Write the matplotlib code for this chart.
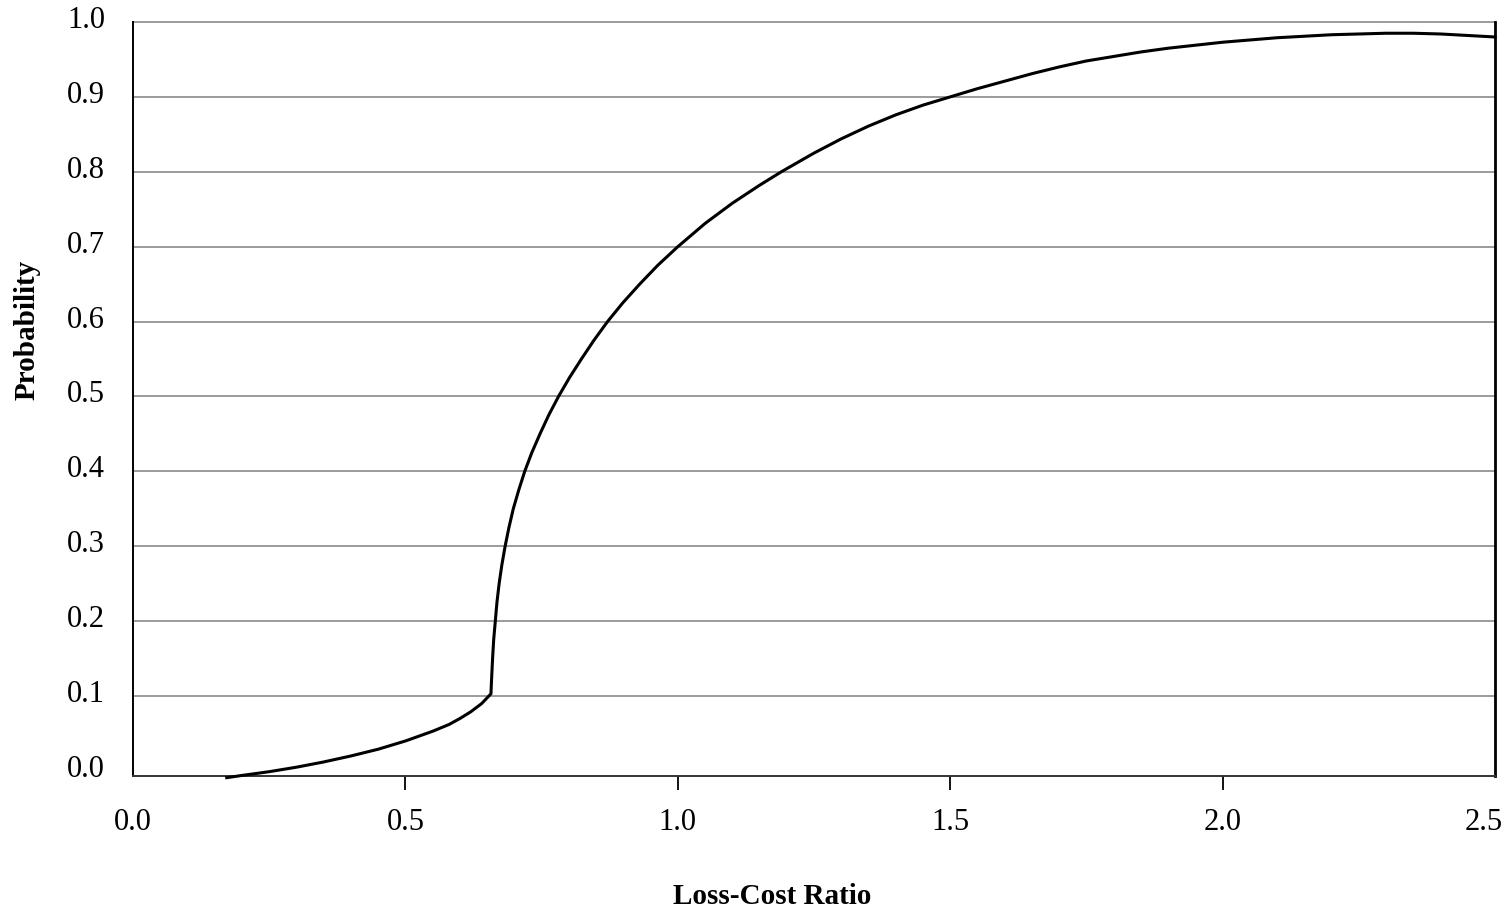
import numpy as np
import matplotlib.pyplot as plt
from matplotlib.transforms import ScaledTranslation

plt.rcParams['font.family'] = ['Liberation Serif', 'DejaVu Serif']

# lower branch of the curve
x_low = [0.172, 0.20, 0.25, 0.30, 0.35, 0.40, 0.45, 0.50, 0.55, 0.58,
         0.60, 0.62, 0.64, 0.657]
y_low = [-0.009, -0.006, -0.001, 0.005, 0.012, 0.020, 0.029, 0.040, 0.053, 0.062,
         0.070, 0.079, 0.090, 0.103]

# upper branch after the jump
x_up = [0.657, 0.658, 0.660, 0.662, 0.665, 0.668, 0.672, 0.677, 0.683, 0.690,
        0.698, 0.708, 0.719, 0.732, 0.747, 0.763, 0.781, 0.801, 0.823, 0.846,
        0.871, 0.899, 0.930, 0.963, 1.000, 1.05, 1.10, 1.15, 1.19, 1.25,
        1.30, 1.35, 1.40, 1.45, 1.50, 1.55, 1.60, 1.65, 1.70, 1.75,
        1.80, 1.85, 1.90, 1.95, 2.00, 2.05, 2.10, 2.15, 2.20, 2.25,
        2.30, 2.35, 2.40, 2.45, 2.50]
y_up = [0.103, 0.120, 0.150, 0.175, 0.200, 0.225, 0.250, 0.275, 0.300, 0.325,
        0.350, 0.375, 0.400, 0.425, 0.450, 0.475, 0.500, 0.525, 0.550, 0.575,
        0.600, 0.625, 0.650, 0.675, 0.700, 0.731, 0.758, 0.782, 0.800, 0.825,
        0.844, 0.861, 0.876, 0.889, 0.900, 0.911, 0.921, 0.931, 0.940, 0.948,
        0.954, 0.960, 0.965, 0.969, 0.973, 0.976, 0.979, 0.981, 0.983, 0.984,
        0.985, 0.985, 0.984, 0.982, 0.980]

x_ticks = [0.0, 0.5, 1.0, 1.5, 2.0, 2.5]
y_ticks = [0.0, 0.1, 0.2, 0.3, 0.4, 0.5, 0.6, 0.7, 0.8, 0.9, 1.0]

fig = plt.figure(figsize=(15.08, 9.13), dpi=100)
ax = fig.add_axes([0.0882, 0.1501, 0.9032, 0.8258])

for yv in y_ticks[1:]:
    ax.axhline(yv, color='#808080', lw=1.1, zorder=1, clip_on=False)

ax.plot(x_low + x_up, y_low + y_up, color='black', lw=2.2, zorder=3,
        solid_joinstyle='round', clip_on=False)

ax.set_xlim(0, 2.5)
ax.set_ylim(-0.0067, 1.0)

ax.set_xticks(x_ticks)
ax.set_xticklabels([f"{v:.1f}" for v in x_ticks])
ax.set_yticks(y_ticks)
ax.set_yticklabels([f"{v:.1f}" for v in y_ticks])

ax.tick_params(axis='x', direction='out', length=10, width=1.3, pad=13,
               labelsize=22, color='black')
ax.tick_params(axis='y', length=0, pad=20, labelsize=22)
ticks = ax.xaxis.get_major_ticks()
ticks[0].tick1line.set_visible(False)
ticks[-1].tick1line.set_visible(False)

# nudge labels like the original
last = ax.get_xticklabels()[-1]
last.set_transform(last.get_transform() + ScaledTranslation(-0.11, 0, fig.dpi_scale_trans))
for lab in ax.get_yticklabels():
    lab.set_transform(lab.get_transform() + ScaledTranslation(0, 0.05, fig.dpi_scale_trans))

ax.spines['top'].set_visible(False)
ax.spines['left'].set_color('black')
ax.spines['left'].set_linewidth(1.4)
ax.spines['bottom'].set_color('#333333')
ax.spines['bottom'].set_linewidth(1.4)
ax.spines['right'].set_color('black')
ax.spines['right'].set_linewidth(2.0)

fig.text(772 / 1508, 1 - 896 / 913, "Loss-Cost Ratio", ha='center', va='center',
         fontsize=21, fontweight='bold')
fig.text(27 / 1508, 1 - 330 / 913, "Probability", ha='center', va='center',
         rotation=90, fontsize=21, fontweight='bold')

fig.savefig("out.png", dpi=100)
